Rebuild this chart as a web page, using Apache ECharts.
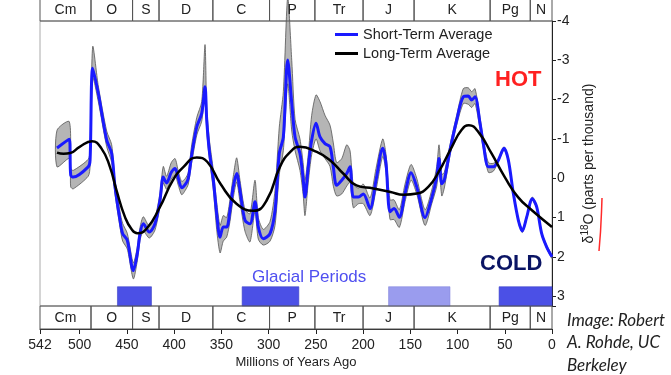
<!DOCTYPE html>
<html>
<head>
<meta charset="utf-8">
<script src="https://cdn.jsdelivr.net/npm/echarts@6/dist/echarts.min.js"></script>
<style>
  html, body { margin: 0; padding: 0; background: #fff; }
  #chart { width: 671px; height: 375px; }
</style>
</head>
<body>
<div id="chart"></div>
<script>
// short-term average (blue) with its uncertainty band (grey)
var ages = [524, 511, 509.5, 506.8, 491, 489, 486.2, 480.3, 471.4, 466.1,
  462.6, 457.3, 454.5, 449.6, 443.2, 439, 436.1, 432.6, 426.3, 420.3,
  415, 411.5, 408, 403, 399, 395.6, 392, 388, 385, 381.4,
  376, 370.8, 367.3, 365.5, 362.8, 358.5, 355, 351.4, 348, 344.4,
  340.9, 337.4, 333.8, 330.3, 325, 319.7, 314.4, 310.9, 305.6, 298.5,
  293.2, 288.7, 284.4, 279.8, 275.5, 272, 266.8, 263.5, 261.5, 258,
  254.4, 249.8, 245.6, 240.3, 235, 231.5, 228, 222.6, 217.3, 213.8,
  210.3, 205, 199.7, 192.6, 186.3, 179.2, 175.7, 171.5, 167.2, 161.6,
  155.6, 149.2, 143.2, 134.4, 127.3, 122, 119.6, 116.7, 114, 108,
  100.9, 93.9, 88.6, 85, 81.5, 76.2, 72.7, 67.4, 62.1, 56.8,
  50.8, 46.2, 40.9, 35.6, 31.4, 26.8, 20.9, 16.2, 10.9, 5.6, 0];
var shortTerm = [-0.77, -0.99, -0.08, -0.03, -0.29, -0.46, -2.80, -2.16, -0.97, -0.63,
  0.22, 1.07, 1.41, 1.58, 2.35, 1.92, 1.41, 1.16, 1.37, 1.16,
  0.56, -0.03, 0.12, -0.15, -0.25, 0.00, 0.24, 0.15, 0.00, -0.60,
  -1.31, -1.65, -2.33, -1.48, -0.71, 0.05, 0.90, 1.50, 1.24, 1.24,
  0.82, 0.22, -0.12, 0.31, 1.07, 1.16, 0.60, 1.24, 1.54, 1.41,
  0.82, -0.63, -1.05, -3.01, -1.91, -1.05, -0.63, 0.00, 0.48, -0.29,
  -0.97, -1.40, -1.05, -0.88, -0.80, -0.29, 0.18, 0.05, -0.12, -0.29,
  0.48, 0.48, 0.40, 0.77, 0.05, -0.76, -0.37, 0.85, 0.77, 0.99,
  0.39, -0.14, 0.22, 1.00, 0.50, -0.03, -0.50, 0.14, 0.05, -0.71,
  -1.48, -2.07, -2.09, -1.99, -2.07, -1.40, -0.88, -0.29, -0.29, -0.46,
  -0.76, -0.46, 0.39, 1.07, 1.34, 0.99, 0.52, 0.73, 1.41, 1.75, 2.00];
var bandHot = [-1.22, -1.44, -0.25, -0.20, -0.48, -0.70, -3.35, -2.35, -1.20, -0.85,
  0.05, 0.85, 1.15, 1.40, 2.15, 1.75, 1.25, 0.98, 1.22, 1.00,
  0.38, -0.30, -0.05, -0.40, -0.50, -0.18, 0.08, 0.00, -0.15, -0.85,
  -1.55, -1.95, -3.40, -1.80, -1.00, -0.20, 0.60, 1.20, 0.95, 1.00,
  0.55, -0.05, -0.52, 0.05, 0.80, 0.90, 0.05, 1.00, 1.30, 1.10,
  0.30, -1.30, -2.20, -4.60, -3.00, -1.50, -1.00, -0.40, 0.05, -0.60,
  -1.60, -2.12, -1.95, -1.60, -1.35, -0.90, -0.40, -0.50, -0.85, -0.70,
  0.15, 0.25, 0.15, 0.50, -0.25, -1.00, -0.60, 0.55, 0.55, 0.80,
  0.15, -0.35, 0.00, 0.80, 0.30, -0.30, -0.85, -0.10, -0.15, -0.85,
  -1.60, -2.28, -2.30, -2.20, -2.28, -1.55, -1.00, -0.40, -0.38, -0.50,
  -0.80, -0.50, 0.35, 1.03, 1.30, 0.95, 0.48, 0.69, 1.37, 1.71, 1.96];
var bandCold = [-0.29, -0.50, 0.22, 0.27, -0.05, -0.30, -2.55, -1.95, -0.80, -0.40,
  0.40, 1.25, 1.60, 1.80, 2.56, 2.10, 1.58, 1.35, 1.52, 1.32,
  0.72, 0.12, 0.28, 0.02, -0.08, 0.18, 0.42, 0.30, 0.15, -0.40,
  -1.10, -1.45, -2.10, -1.20, -0.50, 0.30, 1.30, 1.90, 1.60, 1.50,
  1.10, 0.50, 0.10, 0.60, 1.35, 1.62, 0.85, 1.55, 1.70, 1.60,
  1.20, -0.10, -0.70, -2.40, -1.20, -0.70, -0.20, 0.40, 0.95, 0.10,
  -0.60, -1.00, -0.70, -0.50, -0.30, 0.20, 0.45, 0.40, 0.20, 0.10,
  0.75, 0.65, 0.65, 0.95, 0.30, -0.55, -0.15, 1.05, 1.05, 1.25,
  0.60, 0.05, 0.40, 1.20, 0.65, 0.20, -0.30, 0.45, 0.25, -0.58,
  -1.35, -1.90, -1.88, -1.80, -1.90, -1.25, -0.75, -0.15, -0.18, -0.42,
  -0.72, -0.42, 0.43, 1.11, 1.38, 1.03, 0.56, 0.77, 1.45, 1.79, 2.04];

// long-term average (black)
var longAges = [524, 517, 510, 500, 487, 477, 468, 461, 452, 445,
  439, 429, 415, 402, 390, 376, 365, 351, 334, 316,
  302, 288, 277, 267, 249, 235, 221, 207, 189, 171,
  157, 143, 131, 120, 106, 96, 88, 78, 64, 50, 36, 21, 0];
var longTerm = [-0.65, -0.62, -0.64, -0.80, -0.94, -0.76, -0.29, 0.31, 0.99, 1.30,
  1.40, 1.28, 0.73, 0.08, -0.29, -0.53, -0.42, 0.14, 0.65, 0.83,
  0.56, -0.29, -0.67, -0.80, -0.67, -0.46, -0.12, 0.18, 0.26, 0.35,
  0.42, 0.39, 0.22, -0.16, -0.80, -1.22, -1.35, -1.18, -0.63, -0.03, 0.48, 0.82, 1.24];

// geological periods (Ma)
var periodNames = ['Cm', 'O', 'S', 'D', 'C', 'P', 'Tr', 'J', 'K', 'Pg', 'N'];
var periodStart = [542, 488, 444, 416, 359, 299, 251, 200, 146, 65.5, 23];
var periodEnd = [488, 444, 416, 359, 299, 251, 200, 146, 65.5, 23, 0];

// glacial periods (Ma)
var glacialFrom = [460, 328, 173, 56];
var glacialTo = [424, 268, 108, 0];
var glacialFull = [true, true, false, true];

var FONT = 'Liberation Sans, Arial, sans-serif';

function periodItem(params, api) {
  var i = params.dataIndex;
  var isTop = params.seriesName === 'periodsTop';
  var p0 = api.coord([periodStart[i], 1]);
  var p1 = api.coord([periodEnd[i], 0]);
  var x = Math.min(p0[0], p1[0]), w = Math.abs(p1[0] - p0[0]);
  var y = Math.min(p0[1], p1[1]), h = Math.abs(p1[1] - p0[1]);
  var cy = y + h / 2 + 1;
  if (isTop) { cy = 10; h = h + 20; y = y - 20; } // top edge is cut off in the original
  return {
    type: 'group',
    children: [
      { type: 'rect', shape: { x: x, y: y, width: w, height: h },
        style: { fill: 'none', stroke: '#555', lineWidth: 1 } },
      { type: 'text', style: { text: periodNames[i], x: x + w / 2, y: cy,
          align: 'center', verticalAlign: 'middle', font: '14px ' + FONT, fill: '#222' } }
    ]
  };
}

var chart = echarts.init(document.getElementById('chart'));
chart.setOption({
  animation: false,
  backgroundColor: '#fff',
  grid: [
    { left: 40, right: 119, top: 21, height: 285, show: true, borderColor: '#aaa', borderWidth: 1 },
    { left: 40, right: 119, top: 0, height: 21 },
    { left: 40, right: 119, top: 306, height: 23 }
  ],
  xAxis: [
    { gridIndex: 0, type: 'value', min: 0, max: 542, inverse: true, show: false },
    { gridIndex: 1, type: 'value', min: 0, max: 542, inverse: true, show: false },
    { gridIndex: 2, type: 'value', min: 0, max: 542, inverse: true, interval: 50,
      splitLine: { show: false },
      axisLine: { lineStyle: { color: '#222', width: 1 } },
      axisTick: { length: 5, lineStyle: { color: '#222' } },
      axisLabel: { color: '#222', fontSize: 14, fontFamily: FONT, margin: 9 },
      name: 'Millions of Years Ago', nameLocation: 'middle', nameGap: 27,
      nameTextStyle: { color: '#222', fontSize: 13, fontFamily: FONT } }
  ],
  yAxis: [
    { gridIndex: 0, type: 'value', position: 'right', inverse: true, min: -4, max: 3.25, interval: 1,
      splitLine: { show: false },
      axisLine: { show: true, lineStyle: { color: '#222' } },
      axisTick: { show: true, length: 4, lineStyle: { color: '#222' } },
      axisLabel: { color: '#222', fontSize: 14, fontFamily: FONT, margin: 5,
        formatter: function (v) { return Number.isInteger(v) ? String(v) : ''; } },
      name: '{a|δ}{s|18}{a|O (parts per thousand)}',
      nameLocation: 'middle', nameRotate: 90, nameGap: 25,
      nameTextStyle: { rich: {
        a: { fontSize: 14, color: '#222', fontFamily: FONT },
        s: { fontSize: 10, color: '#222', fontFamily: FONT, padding: [0, 0, 7, 0] }
      } } },
    { gridIndex: 1, type: 'value', min: 0, max: 1, show: false },
    { gridIndex: 2, type: 'value', min: 0, max: 1, show: false }
  ],
  legend: {
    data: ['Short-Term Average', 'Long-Term Average'],
    orient: 'vertical', left: 335, top: 27, padding: 0, icon: 'rect',
    itemWidth: 23, itemHeight: 3, itemGap: 4,
    textStyle: { color: '#222', fontSize: 14.5, fontFamily: FONT }
  },
  series: [
    {
      type: 'custom', name: 'band', xAxisIndex: 0, yAxisIndex: 0, clip: false, z: 2,
      data: [[0, 0]],
      renderItem: function (params, api) {
        var pts = [];
        for (var i = 0; i < ages.length; i++) pts.push(api.coord([ages[i], bandHot[i]]));
        for (var j = ages.length - 1; j >= 0; j--) pts.push(api.coord([ages[j], bandCold[j]]));
        return { type: 'polygon', shape: { points: pts, smooth: 0.25 },
          style: { fill: '#b5b5b5', stroke: '#555', lineWidth: 0.8 } };
      }
    },
    {
      type: 'custom', name: 'glacial', xAxisIndex: 0, yAxisIndex: 0, z: 2,
      data: glacialFrom.map(function (f, i) { return [f, glacialTo[i]]; }),
      renderItem: function (params, api) {
        var i = params.dataIndex;
        var p0 = api.coord([glacialFrom[i], 2.76]);
        var p1 = api.coord([glacialTo[i], 3.25]);
        return { type: 'rect',
          shape: { x: Math.min(p0[0], p1[0]), y: p0[1], width: Math.abs(p1[0] - p0[0]), height: p1[1] - p0[1] },
          style: { fill: glacialFull[i] ? '#4b50e6' : '#9a9cee', stroke: glacialFull[i] ? '#3a3fc8' : '#8486dd', lineWidth: 0.6 } };
      }
    },
    {
      name: 'Short-Term Average', type: 'line', xAxisIndex: 0, yAxisIndex: 0, z: 4,
      data: ages.map(function (a, i) { return [a, shortTerm[i]]; }),
      showSymbol: false, smooth: 0.3, color: '#1a1aff',
      lineStyle: { color: '#1a1aff', width: 3 }
    },
    {
      name: 'Long-Term Average', type: 'line', xAxisIndex: 0, yAxisIndex: 0, z: 5,
      data: longAges.map(function (a, i) { return [a, longTerm[i]]; }),
      showSymbol: false, smooth: 0.5, color: '#000',
      lineStyle: { color: '#000', width: 2.5 }
    },
    {
      type: 'custom', name: 'periodsTop', xAxisIndex: 1, yAxisIndex: 1, z: 6,
      data: periodNames.map(function (n, i) { return [periodStart[i], periodEnd[i]]; }),
      renderItem: periodItem
    },
    {
      type: 'custom', name: 'periodsBottom', xAxisIndex: 2, yAxisIndex: 2, z: 6,
      data: periodNames.map(function (n, i) { return [periodStart[i], periodEnd[i]]; }),
      renderItem: periodItem
    }
  ],
  graphic: [
    { type: 'text', left: 495, top: 69, style: { text: 'HOT', fill: '#ff2020', font: 'bold 22px ' + FONT } },
    { type: 'text', left: 480, top: 253, style: { text: 'COLD', fill: '#0a1464', font: 'bold 22px ' + FONT } },
    { type: 'text', left: 252, top: 269, style: { text: 'Glacial Periods', fill: '#4f4ff0', font: '17px ' + FONT } },
    { type: 'text', left: 567, top: 309, style: { text: 'Image: Robert\nA. Rohde, UC\nBerkeley',
        fill: '#222', font: 'italic 17px Lato, sans-serif', lineHeight: 22.5 } },
    { type: 'polyline', shape: { points: [[602, 198], [601.5, 212], [600.5, 232], [599, 251]] },
      style: { stroke: '#ff2a2a', lineWidth: 1.5, fill: 'none' } }
  ]
});
</script>
</body>
</html>
